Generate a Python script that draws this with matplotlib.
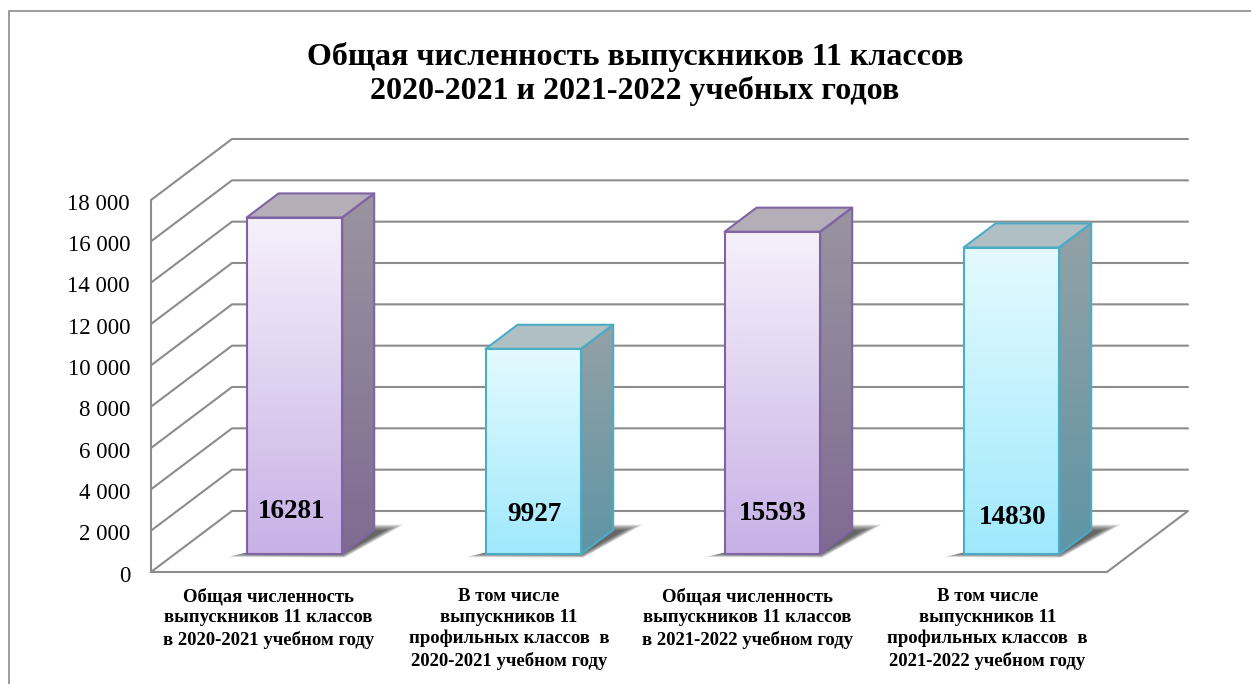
import numpy as np
import matplotlib
matplotlib.use('Agg')
import matplotlib.pyplot as plt
from matplotlib.patches import Polygon, Rectangle
from matplotlib.colors import LinearSegmentedColormap

plt.rcParams['font.family'] = ['Liberation Serif', 'DejaVu Serif']

title = 'Общая численность выпускников 11 классов\n2020-2021 и 2021-2022 учебных годов'
categories = ['Общая численность\nвыпускников 11 классов\nв 2020-2021 учебном году',
              'В том числе\nвыпускников 11\nпрофильных классов  в\n2020-2021 учебном году',
              'Общая численность\nвыпускников 11 классов\nв 2021-2022 учебном году',
              'В том числе\nвыпускников 11\nпрофильных классов  в\n2021-2022 учебном году']
values = [16281, 9927, 15593, 14830]
label_heights = [2950, 2760, 2810, 2660]
label_shift = [0.087, 0.105, 0.10, 0.105]
yticks = [0, 2000, 4000, 6000, 8000, 10000, 12000, 14000, 16000, 18000]
ytick_labels = ['0', '2 000', '4 000', '6 000', '8 000', '10 000', '12 000', '14 000', '16 000', '18 000']

W, H = 1251, 684
# front plane of the 3d box in pixels
left, right, bottom, top = 151, 1107, 572, 200
# shear of the depth axis, in data units
dx = 81 / 239
dy = 61 / 372 * 18000
bar_w = 0.40
d0, d1 = 0.295, 0.69

purple = dict(edge='#8064a2', front=['#f6f0fb', '#c7b1e6'], side=['#9a94a0', '#7f6b92'], top='#b5aeb9')
blue = dict(edge='#4bacc6', front=['#e4faff', '#a0e9fd'], side=['#94a1a5', '#5f95a5'], top='#afbfc3')
styles = [purple, blue, purple, blue]

fig = plt.figure(figsize=(W / 100, H / 100), dpi=100)
ax = fig.add_axes([left / W, 1 - bottom / H, (right - left) / W, (bottom - top) / H])
ax.set_axis_off()


def pr(x, y, d=0.0):
    return (x + d * dx, y + d * dy)


def line(pts, **kw):
    xs, ys = zip(*pts)
    ax.plot(xs, ys, clip_on=False, solid_capstyle='round', **kw)


def grad(poly, c_top, c_bottom, z=3):
    # gradient picture clipped to a polygon
    xs, ys = zip(*poly)
    cmap = LinearSegmentedColormap.from_list('g', [c_top, c_bottom])
    g = np.linspace(0, 1, 128)[:, None]
    im = ax.imshow(g, cmap=cmap, aspect='auto', origin='upper',
                   extent=[min(xs), max(xs), min(ys), max(ys)], zorder=z)
    p = Polygon(poly, transform=ax.transData, fc='none', ec='none', clip_on=False)
    ax.add_patch(p)
    im.set_clip_box(fig.bbox)
    im.set_clip_path(p)


# walls
for v in yticks:
    if v == 0:
        continue
    line([pr(-0.5, v), pr(-0.5, v, 1), pr(3.5, v, 1)], color='#8c8c8c', lw=1.5, zorder=1)
line([pr(-0.5, 0), pr(-0.5, 0, 1), pr(3.5, 0, 1), pr(3.5, 0), pr(-0.5, 0)], color='#8c8c8c', lw=1.5, zorder=1)
line([pr(-0.5, 0), pr(-0.5, 18000)], color='#8c8c8c', lw=1.5, zorder=1)

for i, v in enumerate(values):
    st = styles[i]
    x0, x1 = i - bar_w / 2, i + bar_w / 2

    # soft shadow on the floor, layers go from the outer outline to the core
    for g in np.linspace(1, 0, 16):
        shadow = [pr(x0 - 0.015 - 0.05 * g, 0, d0 + 0.01 - 0.06 * g),
                  pr(x1 + 0.03 * g, 0, d0 - 0.06 * g),
                  pr(x1 + 0.045 + 0.05 * g, 0, 0.68 + 0.10 * g),
                  pr(x1 - 0.047 - 0.03 * g, 0, 0.68 + 0.10 * g)]
        ax.add_patch(Polygon(shadow, fc='#202020', ec='none', alpha=0.065, zorder=2, clip_on=False))

    fa = [pr(x0, 0, d0), pr(x1, 0, d0), pr(x1, v, d0), pr(x0, v, d0)]
    sd = [pr(x1, 0, d0), pr(x1, 0, d1), pr(x1, v, d1), pr(x1, v, d0)]
    tp = [pr(x0, v, d0), pr(x1, v, d0), pr(x1, v, d1), pr(x0, v, d1)]
    grad(fa, st['front'][0], st['front'][1])
    grad(sd, st['side'][0], st['side'][1])
    ax.add_patch(Polygon(tp, fc=st['top'], ec='none', zorder=3, clip_on=False))
    for poly in (fa, sd, tp):
        ax.add_patch(Polygon(poly, fc='none', ec=st['edge'], lw=1.5, zorder=4, joinstyle='round', clip_on=False))

    ax.text(i + label_shift[i], label_heights[i], str(v), ha='center', va='center',
            fontsize=19.5, fontweight='bold', color='black', zorder=5)

ax.set_xlim(-0.5, 3.5)
ax.set_ylim(0, 18000)

# tick labels
for v, s in zip(yticks, ytick_labels):
    ax.annotate(s, (-0.5, v), xytext=(-21, -4), textcoords='offset pixels',
                ha='right', va='center', fontsize=16.5, annotation_clip=False)

cat_x = [-0.01, 0.998, 1.995, 3.0]
for x, c in zip(cat_x, categories):
    ax.annotate(c, (x, 0), xytext=(0, -16), textcoords='offset pixels', ha='center', va='top',
                fontsize=13.5, fontweight='bold', linespacing=1.3, annotation_clip=False)

# outer frame
fig.add_artist(Rectangle((8.5 / W, -0.01), 1.1, 1 + 0.01 - 10.5 / H, transform=fig.transFigure,
                         fc='none', ec='#8c8c8c', lw=1.2))
fig.text(635 / W, 1 - 74 / H, title, ha='center', va='center', fontsize=23, fontweight='bold',
         linespacing=1.2)

fig.savefig('out.png', dpi=100)
